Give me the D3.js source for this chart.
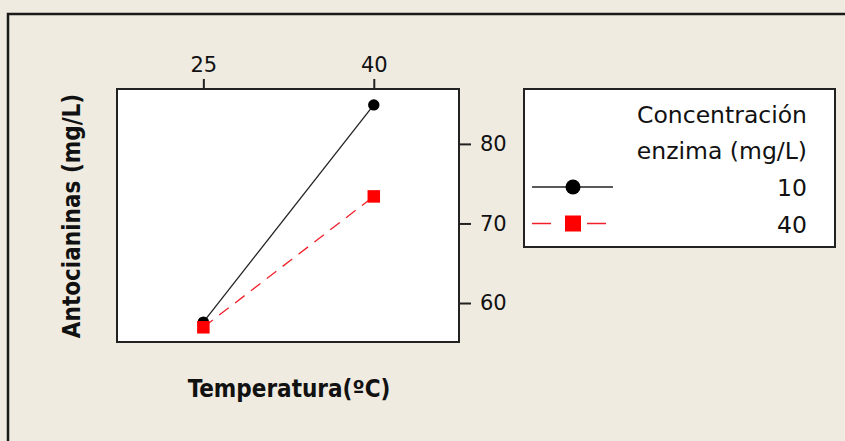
<!DOCTYPE html>
<html>
<head>
<meta charset="utf-8">
<script src="https://cdn.jsdelivr.net/npm/d3@7"></script>
<style>
  body { margin: 0; background: #efebe1; }
  svg { display: block; }
  .tick text { font-family: "DejaVu Sans", sans-serif; font-size: 21px; fill: #111; }
  .tick line { stroke: #222; stroke-width: 2; }
  .title { font-family: "DejaVu Sans Condensed", "DejaVu Sans", sans-serif; font-weight: bold; font-size: 24px; fill: #111; }
  .leg { font-family: "DejaVu Sans", sans-serif; font-size: 23.5px; fill: #111; }
</style>
</head>
<body>
<script>

var temperatures = [25, 40]
var concentrations = ['10', '40']
var series10 = [57.6, 84.9]
var series40 = [56.95, 73.4]
var yTicks = [60, 70, 80]
var xTitle = 'Temperatura(ºC)'
var yTitle = 'Antocianinas (mg/L)'
var legendTitle = ['Concentración', 'enzima (mg/L)']

var width = 845, height = 441
var plot = {left: 117, right: 459, top: 89, bottom: 342}

var svg = d3.select("body").append("svg")
  .attr("width", width)
  .attr("height", height)

// outer frame (right and bottom edges fall outside the picture)
svg.append("rect")
  .attr("x", 0).attr("y", 0).attr("width", width).attr("height", height)
  .style("fill", "#efebe1")
svg.append("path")
  .attr("d", "M8," + height + "V14H" + width)
  .style("fill", "none").style("stroke", "#1a1a1a").style("stroke-width", 2.5)

var xScale = d3.scaleLinear()
  .domain([17.4, 47.5])
  .range([plot.left, plot.right])

var yScale = d3.scaleLinear()
  .domain([55.1, 86.9])
  .range([plot.bottom, plot.top])

svg.append("rect")
  .attr("x", plot.left).attr("y", plot.top)
  .attr("width", plot.right - plot.left).attr("height", plot.bottom - plot.top)
  .style("fill", "#fff").style("stroke", "#222").style("stroke-width", 2)

var xAxis = d3.axisTop(xScale).tickValues(temperatures).tickSize(10).tickPadding(7)
var yAxis = d3.axisRight(yScale).tickValues(yTicks).tickSize(12).tickPadding(9)

var gx = svg.append("g")
  .attr("transform", "translate(0," + plot.top + ")")
  .call(xAxis)
gx.select(".domain").remove()

var gy = svg.append("g")
  .attr("transform", "translate(" + plot.right + ",0)")
  .call(yAxis)
gy.select(".domain").remove()

var line = d3.line()
  .x(function(d, i) { return xScale(temperatures[i]) })
  .y(function(d) { return yScale(d) })

svg.append("path")
  .datum(series10)
  .attr("d", line)
  .style("fill", "none").style("stroke", "#222").style("stroke-width", 1.3)

svg.append("path")
  .datum(series40)
  .attr("d", line)
  .style("fill", "none").style("stroke", "#f0202a").style("stroke-width", 1.3)
  .style("stroke-dasharray", "12,8")

svg.selectAll(".dot10")
  .data(series10)
  .enter().append("circle")
  .attr("class", "dot10")
  .attr("cx", function(d, i) { return xScale(temperatures[i]) })
  .attr("cy", function(d) { return yScale(d) })
  .attr("r", 5.7)
  .style("fill", "#000")

var sq = 12.5
svg.selectAll(".sq40")
  .data(series40)
  .enter().append("rect")
  .attr("class", "sq40")
  .attr("x", function(d, i) { return xScale(temperatures[i]) - sq / 2 })
  .attr("y", function(d) { return yScale(d) - sq / 2 })
  .attr("width", sq).attr("height", sq)
  .style("fill", "#ff0000")

// axis titles
svg.append("text")
  .attr("class", "title")
  .attr("x", 289).attr("y", 397)
  .style("text-anchor", "middle")
  .text(xTitle)

svg.append("text")
  .attr("class", "title")
  .attr("transform", "translate(80,216) rotate(-90)")
  .style("text-anchor", "middle")
  .text(yTitle)

// legend
var legend = svg.append("g")
svg.append("rect")
  .attr("x", 524).attr("y", 89)
  .attr("width", 311).attr("height", 158)
  .style("fill", "#fff").style("stroke", "#222").style("stroke-width", 2)

legendTitle.forEach(function(t, i) {
  svg.append("text")
    .attr("class", "leg")
    .attr("x", 807).attr("y", 123 + i * 36)
    .style("text-anchor", "end")
    .text(t)
})

concentrations.forEach(function(c, i) {
  var yy = 187 + i * 36.5
  svg.append("text")
    .attr("class", "leg")
    .attr("x", 807).attr("y", yy + 9)
    .style("text-anchor", "end")
    .text(c)
  var l = svg.append("line")
    .attr("x1", 532).attr("x2", 613 - i * 6)
    .attr("y1", yy).attr("y2", yy)
    .style("stroke-width", 1.5)
  if (i == 0) {
    l.style("stroke", "#222")
    svg.append("circle").attr("cx", 573).attr("cy", yy).attr("r", 7.5).style("fill", "#000")
  } else {
    l.style("stroke", "#f0202a").style("stroke-dasharray", "19,36")
    svg.append("rect").attr("x", 565).attr("y", yy - 8).attr("width", 16).attr("height", 16).style("fill", "#ff0000")
  }
})

</script>
</body>
</html>
